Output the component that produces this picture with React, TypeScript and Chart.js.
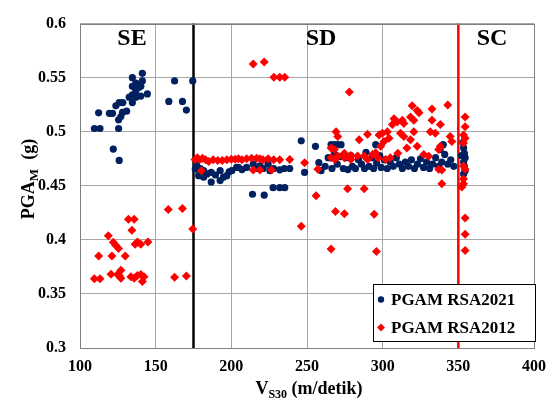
import React, { useEffect, useRef } from "react";
import { Chart, registerables } from "chart.js";

Chart.register(...registerables);

const xTickLabels = ["100", "150", "200", "250", "300", "350", "400"];
const yTickLabels = ["0.3", "0.35", "0.4", "0.45", "0.5", "0.55", "0.6"];

const zoneLabels = ["SE", "SD", "SC"];
const zoneLabelX = [132, 321, 492];
const boundaryVs30 = [175, 350];

const legendLabels = ["PGAM RSA2021", "PGAM RSA2012"];

// PGAM RSA2021 [Vs30, PGA]
const rsa2021: [number, number][] = [
  [109.5, 0.503], [113.2, 0.503], [112.3, 0.5175], [122, 0.484], [125.9, 0.4735],
  [119.4, 0.517], [121.5, 0.517], [123.7, 0.524], [125.9, 0.527], [128.3, 0.527],
  [125.5, 0.511], [125.5, 0.503], [128.1, 0.518], [130.8, 0.519], [127, 0.514],
  [132.5, 0.532], [134.6, 0.527], [134.6, 0.534], [136.9, 0.532], [140.2, 0.533],
  [144.5, 0.535], [134.6, 0.55], [136.9, 0.545], [139, 0.541], [141.2, 0.554],
  [141.2, 0.547], [140.2, 0.542], [134.6, 0.542], [136.9, 0.538], [162.5, 0.547],
  [158.7, 0.528], [167.7, 0.528], [170.3, 0.52], [174.5, 0.547],
  [176.2, 0.4654], [177, 0.47], [178.4, 0.4594], [179.5, 0.466], [181.7, 0.458],
  [181.7, 0.464], [184, 0.461], [186.7, 0.4534], [186.7, 0.4624], [189.5, 0.46],
  [192.6, 0.4548], [192.6, 0.464], [194.8, 0.458], [197, 0.4594], [198.5, 0.463],
  [200.3, 0.464], [203.5, 0.467], [204.7, 0.467], [207, 0.465], [210.1, 0.467],
  [214.5, 0.47], [216, 0.466], [218.9, 0.4684], [221, 0.466], [224.3, 0.47],
  [225.5, 0.464], [228, 0.466], [232, 0.4648], [235, 0.466], [238.6, 0.466],
  [214, 0.4422], [221.7, 0.4413], [227.6, 0.4483], [232, 0.4483], [235.3, 0.4483],
  [246.2, 0.4916], [248.4, 0.4624], [255.6, 0.4865], [257.8, 0.4714], [259.3, 0.464],
  [262, 0.468], [264, 0.476], [265.9, 0.488], [266.5, 0.466], [268, 0.479],
  [268.1, 0.488], [270, 0.47], [270.3, 0.488], [272, 0.477], [272.5, 0.488],
  [274, 0.466], [276, 0.476], [277, 0.465], [279, 0.478], [280, 0.468],
  [282, 0.466], [284, 0.474], [286, 0.47], [288, 0.466], [289, 0.481],
  [291, 0.468], [293, 0.476], [294, 0.466], [295.4, 0.488], [296, 0.471],
  [298, 0.478], [299, 0.467], [301, 0.474], [303, 0.466], [305, 0.472],
  [307, 0.468], [309, 0.476], [311, 0.47], [313, 0.466], [315, 0.472],
  [317, 0.468], [319, 0.474], [321, 0.466], [323, 0.47], [325, 0.475],
  [327, 0.467], [329, 0.472], [331, 0.466], [333, 0.47], [335, 0.476],
  [337, 0.468], [338, 0.4835], [339, 0.472], [340, 0.488], [341, 0.479],
  [343, 0.47], [345, 0.474], [347, 0.468], [352, 0.478], [353, 0.49],
  [353.5, 0.485], [354, 0.48], [354.5, 0.476], [353.5, 0.472], [354, 0.468],
  [354.5, 0.464], [353.5, 0.461],
];

// PGAM RSA2012 [Vs30, PGA]
const rsa2012: [number, number][] = [
  [109.5, 0.364], [113.2, 0.364], [112.3, 0.385], [118.7, 0.4037], [121.1, 0.385],
  [122, 0.3977], [123.5, 0.395], [125.5, 0.392], [129.9, 0.385], [132, 0.419],
  [135.8, 0.419], [134.3, 0.409], [136.4, 0.396], [138, 0.398], [140.2, 0.396],
  [144.9, 0.398], [120.5, 0.3682], [124.8, 0.368], [127, 0.372], [127, 0.3645],
  [126, 0.367], [133.6, 0.366], [135.8, 0.3645], [137.9, 0.367], [140.2, 0.368],
  [141.2, 0.3615], [142.3, 0.366], [158.3, 0.428], [167.7, 0.429], [162.5, 0.3655],
  [170.3, 0.3667], [174.5, 0.41],
  [176, 0.4744], [177.5, 0.476], [179, 0.474], [180.2, 0.4639], [181, 0.4755],
  [183, 0.474], [185, 0.4725], [188, 0.474], [191, 0.4735], [194, 0.4735],
  [197, 0.474], [200, 0.4745], [202.5, 0.4745], [204.7, 0.475], [207, 0.474],
  [210.1, 0.475], [213.4, 0.4755], [214.5, 0.4645], [216.7, 0.4755], [218.9, 0.475],
  [218.9, 0.4645], [221, 0.474], [224.3, 0.475], [226.5, 0.4645], [228, 0.474],
  [232, 0.474], [238.6, 0.4744], [248.4, 0.4714], [257.2, 0.4654],
  [214.5, 0.5627], [221.7, 0.5645], [228.1, 0.5503], [232, 0.5503], [235.3, 0.5503],
  [246.2, 0.4127], [256, 0.4407], [276.8, 0.4473], [287.8, 0.4473], [268.8, 0.4263],
  [274.7, 0.4241], [294.4, 0.4238], [265.9, 0.3916], [295.9, 0.3893], [278, 0.5368],
  [265.9, 0.485], [268.1, 0.4835], [270.3, 0.4775], [274.7, 0.48], [279, 0.478],
  [283.4, 0.4775], [287.8, 0.4775], [265.9, 0.476], [268.5, 0.4744], [274.7, 0.476],
  [279, 0.4744], [290, 0.4744], [297, 0.476], [302, 0.4744], [305, 0.476],
  [310, 0.48], [316, 0.485],
  [269.2, 0.5], [270.3, 0.4955], [284.5, 0.4925], [290, 0.4976], [297.6, 0.497],
  [299.8, 0.4985], [303.1, 0.5], [304.2, 0.494], [300.9, 0.491], [298.7, 0.4865],
  [295.4, 0.4805], [293.3, 0.479],
  [307.5, 0.512], [309.6, 0.509], [306.4, 0.5067], [313, 0.5106], [314, 0.5076],
  [319.5, 0.5241], [322.8, 0.5196], [324, 0.5175], [332.6, 0.5211], [318.4, 0.5136],
  [320.6, 0.5106], [332.6, 0.5106], [338.1, 0.5067], [331.5, 0.5], [334.8, 0.4985],
  [320.6, 0.5], [343, 0.5247],
  [311.8, 0.4985], [314, 0.4955], [318.4, 0.4925], [322.8, 0.4865], [327.2, 0.479],
  [330.4, 0.4774], [337, 0.4835], [338.1, 0.4865], [337, 0.4654], [339.1, 0.4645],
  [339.1, 0.452], [344.6, 0.4955], [345.7, 0.491],
  [354.5, 0.5136], [354.5, 0.5045], [353.4, 0.497], [354.5, 0.494], [353.4, 0.4895],
  [353.4, 0.4684], [354.5, 0.4654], [353.4, 0.4564], [353.4, 0.452], [352.3, 0.4489],
  [354.5, 0.4202], [354.5, 0.4051], [354.5, 0.3901],
];

const NAVY = "#002060";
const RED = "#FF0000";
const SERIF = "'Liberation Serif', 'DejaVu Serif', serif";

type Part = { text: string; size: number; dy: number };

function drawParts(ctx: CanvasRenderingContext2D, parts: Part[], cx: number, cy: number) {
  let total = 0;
  parts.forEach((p) => {
    ctx.font = `bold ${p.size}px ${SERIF}`;
    total += ctx.measureText(p.text).width;
  });
  let x = cx - total / 2;
  ctx.textAlign = "left";
  ctx.textBaseline = "alphabetic";
  parts.forEach((p) => {
    ctx.font = `bold ${p.size}px ${SERIF}`;
    ctx.fillText(p.text, x, cy + p.dy);
    x += ctx.measureText(p.text).width;
  });
}

const decorPlugin = {
  id: "decor",
  afterDatasetsDraw(chart: any) {
    const ctx: CanvasRenderingContext2D = chart.ctx;
    const { chartArea } = chart;
    ctx.save();
    // frame
    ctx.strokeStyle = "#7f7f7f";
    ctx.lineWidth = 1;
    ctx.strokeRect(Math.round(chartArea.left) + 0.5, Math.round(chartArea.top) + 0.5,
      Math.round(chartArea.right - chartArea.left), Math.round(chartArea.bottom - chartArea.top));
    // zone labels
    ctx.fillStyle = "#000";
    ctx.font = `bold 24px ${SERIF}`;
    ctx.textAlign = "center";
    ctx.textBaseline = "middle";
    zoneLabels.forEach((t, i) => ctx.fillText(t, zoneLabelX[i], 39));
    // legend
    const lx = 373, ly = 284, lw = 162, lh = 57;
    ctx.fillStyle = "#fff";
    ctx.fillRect(lx, ly, lw, lh);
    ctx.strokeStyle = "#000";
    ctx.strokeRect(lx + 0.5, ly + 0.5, lw, lh);
    const rows = [299.5, 327.5];
    ctx.fillStyle = NAVY;
    ctx.beginPath();
    ctx.arc(381, rows[0], 3.2, 0, Math.PI * 2);
    ctx.fill();
    ctx.fillStyle = RED;
    ctx.beginPath();
    ctx.moveTo(381, rows[1] - 4);
    ctx.lineTo(385, rows[1]);
    ctx.lineTo(381, rows[1] + 4);
    ctx.lineTo(377, rows[1]);
    ctx.closePath();
    ctx.fill();
    ctx.fillStyle = "#000";
    ctx.font = `bold 17px ${SERIF}`;
    ctx.textAlign = "left";
    ctx.textBaseline = "middle";
    legendLabels.forEach((t, i) => ctx.fillText(t, 391, rows[i] + 1));
    // x title
    ctx.fillStyle = "#000";
    drawParts(ctx, [
      { text: "V", size: 18, dy: 0 },
      { text: "S30", size: 12, dy: 4 },
      { text: " (m/detik)", size: 18, dy: 0 },
    ], 309, 394);
    // y title
    ctx.save();
    ctx.translate(34, 179);
    ctx.rotate(-Math.PI / 2);
    drawParts(ctx, [
      { text: "PGA", size: 18, dy: 0 },
      { text: "M", size: 13, dy: 4 },
      { text: "  (g)", size: 18, dy: 0 },
    ], 0, 0);
    ctx.restore();
    ctx.restore();
  },
};

export default function App() {
  const ref = useRef<HTMLCanvasElement>(null);
  useEffect(() => {
    document.body.style.margin = "0";
    if (!ref.current) return;
    const chart = new Chart(ref.current, {
      type: "scatter",
      data: {
        datasets: [
          {
            label: legendLabels[1],
            data: rsa2012.map(([x, y]) => ({ x, y })),
            pointStyle: "rectRot",
            pointRadius: 4.5,
            backgroundColor: RED,
            borderColor: RED,
            borderWidth: 0,
            order: 1,
          },
          {
            label: legendLabels[0],
            data: rsa2021.map(([x, y]) => ({ x, y })),
            pointStyle: "circle",
            pointRadius: 3.6,
            backgroundColor: NAVY,
            borderColor: NAVY,
            borderWidth: 0,
            order: 2,
          },
          {
            label: "b1",
            data: [{ x: boundaryVs30[0], y: 0.3 }, { x: boundaryVs30[0], y: 0.6 }],
            showLine: true,
            pointRadius: 0,
            borderColor: "#000",
            borderWidth: 2.5,
            order: 3,
          },
          {
            label: "b2",
            data: [{ x: boundaryVs30[1], y: 0.3 }, { x: boundaryVs30[1], y: 0.6 }],
            showLine: true,
            pointRadius: 0,
            borderColor: RED,
            borderWidth: 2.5,
            order: 3,
          },
        ],
      },
      options: {
        animation: false,
        responsive: true,
        maintainAspectRatio: false,
        layout: { padding: { top: 16, right: 17, left: 0, bottom: 0 } },
        plugins: { legend: { display: false }, tooltip: { enabled: false } },
        scales: {
          x: {
            type: "linear",
            min: 100,
            max: 400,
            afterFit: (s: any) => { s.height = 55; },
            ticks: {
              stepSize: 50,
              padding: 9,
              color: "#000",
              font: { family: SERIF, size: 16, weight: "bold" },
              callback: (v: any) => xTickLabels[Math.round((Number(v) - 100) / 50)] ?? "",
            },
            grid: { color: "#a6a6a6", drawTicks: false },
            border: { display: false },
          },
          y: {
            type: "linear",
            min: 0.3,
            max: 0.6,
            afterFit: (s: any) => { s.width = 80; },
            ticks: {
              stepSize: 0.05,
              padding: 14,
              color: "#000",
              font: { family: SERIF, size: 16, weight: "bold" },
              callback: (v: any) => yTickLabels[Math.round((Number(v) - 0.3) / 0.05)] ?? "",
            },
            grid: { color: "#a6a6a6", drawTicks: false },
            border: { display: false },
          },
        },
      },
      plugins: [decorPlugin],
    });
    return () => chart.destroy();
  }, []);
  return (
    <div style={{ width: 555, height: 403, position: "relative", background: "#fff" }}>
      <canvas ref={ref} />
    </div>
  );
}
